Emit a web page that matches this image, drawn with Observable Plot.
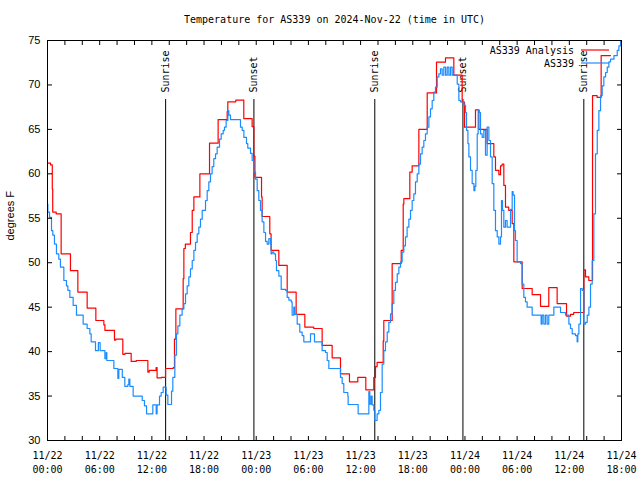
<!DOCTYPE html>
<html>
<head>
<meta charset="utf-8">
<script src="https://cdn.jsdelivr.net/npm/d3@7"></script>
<script src="https://cdn.jsdelivr.net/npm/@observablehq/plot@0.6"></script>
<style>
  html, body { margin: 0; padding: 0; background: white; }
</style>
</head>
<body>
<div id="chart"></div>
<script>
const titleText = "Temperature for AS339 on 2024-Nov-22 (time in UTC)";
const yLabelText = "degrees F";
const seriesNames = ["AS339 Analysis", "AS339"];
const seriesColors = ["#ff0000", "#1a8cff"];
const startTime = "2024-11-22T00:00Z";
const endTime = "2024-11-24T18:00Z";
const yDomain = [30, 75];
const yTicks = [30, 35, 40, 45, 50, 55, 60, 65, 70, 75];
const minorTickHours = 2;
const labelTickHours = 6;

const eventNames = ["Sunrise", "Sunset", "Sunrise", "Sunset", "Sunrise"];
const eventTimes = ["2024-11-22T13:35Z", "2024-11-22T23:44Z", "2024-11-23T13:38Z", "2024-11-23T23:46Z", "2024-11-24T13:40Z"];

// hours since 2024-11-22 00:00 UTC
const analysisHours = [0,0.35,0.55,0.6,1.0,1.57,2.64,3.49,4.56,5.56,6.48,6.6,7.7,7.85,8.66,8.9,9.62,10.2,11.54,11.7,12.49,12.6,13.1,13.57,14.45,14.6,14.76,15.6,15.68,15.85,16.44,16.64,16.83,17.52,18.63,19.62,20.66,20.73,21.65,22.57,23.53,23.72,23.85,24.61,24.68,25.56,25.71,26.6,27.56,28.59,29.59,30.62,31.58,32.73,33.69,34.72,35.68,36.6,37.52,37.71,37.9,38.6,38.67,39.63,40.67,40.9,40.97,41.66,41.93,42.7,43.66,44.73,45.76,46.72,47.68,47.95,49.21,49.6,50.55,51.32,51.51,51.9,52.09,52.27,52.47,52.66,53.03,53.43,53.62,54.58,55.73,56.69,57.64,58.6,59.68,60.14,60.5,61.67,61.86,62.24,62.67,63.2,63.66,64.73];
const analysisTemps = [61.2,61.0,58.3,55.7,55.5,51.0,49.1,46.7,44.9,43.5,43.0,42.4,41.3,41.4,39.7,39.8,38.9,39.0,37.7,37.9,38.2,37.05,37.1,38.1,38.2,41.4,44.8,48.2,51.6,52.1,53.4,55.9,57.4,60.0,63.45,66.1,67.0,68.1,68.3,66.2,65.3,62.0,59.6,57.4,55.2,53.25,51.4,49.7,46.7,44.2,42.75,42.6,40.7,39.3,37.5,36.6,37.1,35.7,37.1,38.3,38.8,41.2,43.5,49.9,51.4,56.6,57.2,60.2,60.9,65.0,69.1,72.56,73.05,71.1,68.06,65.25,67.2,65.0,63.4,61.9,60.4,59.9,60.9,61.1,58.7,56.25,55.9,54.4,50.1,47.1,46.4,45.1,47.2,45.4,44.0,44.2,44.4,49.2,48.4,48.0,68.8,68.6,73.3,73.3];

const obsHours = [0,0.04,0.23,0.46,0.61,0.80,1.03,1.30,1.49,1.88,2.18,2.34,2.57,2.95,3.33,4.10,4.56,4.87,5.02,5.52,5.85,6.05,6.6,6.75,6.82,7.63,8.09,8.2,8.6,8.89,9.24,9.35,9.47,9.85,10.89,11.15,11.39,12.11,12.5,12.6,12.88,13.07,13.30,13.64,13.84,14.26,14.41,14.64,14.83,14.99,15.22,15.48,15.68,15.87,16.06,16.25,16.44,16.64,16.83,17.02,17.21,17.40,17.59,17.79,18.17,18.36,18.55,18.74,18.93,19.12,19.32,19.51,19.78,19.97,20.20,20.35,20.54,20.74,20.85,21.04,22.19,22.39,22.58,22.88,23.03,23.34,23.53,23.72,23.92,24.11,24.30,24.49,24.68,24.88,25.07,25.26,25.45,25.64,25.71,25.83,26.02,26.22,26.33,26.60,26.87,27.37,27.56,27.75,28.02,28.13,28.32,28.44,28.71,29.01,29.28,29.47,30.05,30.24,30.55,30.70,31.39,31.58,31.97,32.16,32.35,33.62,33.69,33.88,34.07,34.53,34.57,35.68,35.72,36.76,36.95,37.06,37.21,37.33,37.52,37.64,37.90,38.10,38.29,38.48,38.67,38.86,39.06,39.25,39.44,39.63,39.82,40.01,40.21,40.40,40.59,40.78,40.97,41.16,41.35,41.55,41.74,41.93,42.12,42.31,42.51,42.70,42.89,43.08,43.27,43.46,43.66,43.85,44.04,44.23,44.42,44.61,44.81,45.00,45.19,45.38,45.57,45.77,45.96,46.15,46.34,46.53,47.11,47.30,47.49,47.88,48.07,48.18,48.34,48.45,48.64,48.83,49.03,49.14,49.25,49.41,49.52,49.67,49.79,49.98,50.17,50.36,50.55,50.75,50.94,51.13,51.32,51.51,51.71,51.90,52.09,52.20,52.32,52.47,52.66,52.85,53.05,53.24,53.43,53.54,53.70,53.81,54.00,54.39,54.58,54.77,54.96,55.15,55.73,56.69,56.76,56.88,57.07,57.26,57.45,57.64,58.03,58.22,58.99,59.56,59.95,60.14,60.33,60.71,60.90,60.98,61.10,61.29,61.48,61.67,61.86,62.06,62.25,62.44,62.63,62.82,63.01,63.21,63.40,63.59,63.78,63.97,64.17,64.36,64.55,64.74,65.13,65.51,65.70,65.89];
const obsTemps = [56.6,55.7,55.1,53.6,53.1,52.1,51.0,50.4,49.5,48.0,47.4,46.9,46.1,45.2,44.1,43.1,42.6,42.0,41.1,40.1,41.0,40.1,39.2,39.9,39.0,38.1,37.0,38.0,37.1,36.1,36.3,36.9,36.1,35.0,34.5,33.9,33.0,34.0,33.0,34.0,35.0,35.4,36.0,35.1,34.05,35.55,37.1,39.6,42.0,42.9,44.1,44.8,45.4,46.5,47.4,48.4,49.3,50.25,51.4,52.3,53.25,54.0,54.9,55.9,57.0,58.1,59.1,60.0,60.8,61.7,62.25,63.0,63.9,64.5,64.9,65.25,66.0,67.1,66.6,66.1,65.25,64.9,64.1,63.4,62.9,62.3,61.5,60.2,59.4,58.1,57.0,55.9,54.6,53.4,52.4,52.1,52.7,52.1,51.0,51.2,51.0,50.25,49.1,48.5,47.0,46.9,46.1,45.8,45.6,44.1,45.0,44.2,43.1,42.2,41.8,41.1,41.1,42.0,42.0,41.1,41.1,40.1,39.9,39.0,38.1,38.1,37.1,36.4,35.4,35.0,34.05,34.05,33.0,33.0,35.5,34.1,35.0,34.0,33.4,32.25,33.0,33.4,35.4,38.6,40.1,41.1,42.2,43.3,44.25,45.4,46.9,47.8,48.75,49.5,50.1,51.2,51.9,52.9,54.0,54.9,55.9,57.0,57.75,59.1,60.0,61.1,62.25,63.0,63.75,64.5,65.25,66.4,67.3,68.25,69.2,69.75,70.9,71.25,71.8,71.1,72.0,71.1,72.0,71.1,72.0,71.1,70.1,68.25,68.1,67.7,66.9,64.9,63.4,61.9,60.4,58.9,58.1,58.6,60.4,64.5,67.1,66.9,64.5,64.1,64.9,62.1,65.25,63.75,61.9,58.9,55.9,53.6,52.9,52.1,52.9,57.0,55.9,54.0,54.75,54.0,54.0,56.0,58.0,57.6,53.6,52.5,50.1,49.9,47.6,46.1,45.6,45.0,44.1,44.1,43.1,44.1,43.1,44.1,43.1,44.1,44.1,45.0,44.4,44.1,43.1,42.6,42.0,41.8,41.1,42.0,43.1,47.1,46.9,43.1,43.3,44.1,45.0,47.6,50.25,55.5,62.25,64.9,67.1,68.8,69.9,70.9,71.4,72.0,72.6,72.9,73.3,73.9,74.4,75.0];

const MONO = "'DejaVu Sans Mono', 'Liberation Mono', monospace";
const SANS = "'Liberation Sans', Arial, sans-serif";
const t0 = new Date(startTime), t1 = new Date(endTime);
const toDate = h => new Date(+t0 + h * 3600e3);
const analysis = analysisHours.map((h, i) => ({time: toDate(h), temp: analysisTemps[i]}));
const obs = obsHours.map((h, i) => ({time: toDate(h), temp: obsTemps[i]}));
const events = eventTimes.map((t, i) => ({time: new Date(t), name: eventNames[i]}));
const minorTicks = d3.utcHour.every(minorTickHours).range(t0, new Date(+t1 + 1));
const labelTicks = d3.utcHour.every(labelTickHours).range(t0, new Date(+t1 + 1));
const fmt = d3.utcFormat("%m/%d\n%H:%M");

function legendMark(index, scales, values, dims) {
  const g = d3.create("svg:g").attr("font-family", MONO).attr("font-size", 10);
  const xr = dims.width - dims.marginRight;
  seriesNames.forEach((name, i) => {
    const y = dims.marginTop + 10 + i * 13;
    g.append("text").attr("x", xr - 47).attr("y", y + 1).attr("dy", "0.32em")
      .attr("text-anchor", "end").attr("fill", "black").text(name);
    g.append("line").attr("x1", xr - 40).attr("x2", xr - 12).attr("y1", y).attr("y2", y)
      .attr("stroke", seriesColors[i]).attr("stroke-width", 1.2);
  });
  return g.node();
}

const chart = Plot.plot({
  width: 640,
  height: 480,
  marginLeft: 47,
  marginRight: 19,
  marginTop: 40,
  marginBottom: 40,
  style: {fontFamily: MONO, fontSize: "10px", background: "white", color: "black"},
  x: {type: "utc", domain: [t0, t1]},
  y: {domain: yDomain},
  marks: [
    Plot.ruleX(events, {x: "time", stroke: "black", strokeWidth: 1, insetTop: 59}),
    Plot.text(events, {x: "time", text: "name", frameAnchor: "top", dy: 52, rotate: -90,
      textAnchor: "start", lineAnchor: "middle", fill: "black", fontFamily: MONO, fontSize: 10}),
    Plot.line(analysis, {x: "time", y: "temp", stroke: seriesColors[0], strokeWidth: 1.2, curve: "step-after"}),
    Plot.line(obs, {x: "time", y: "temp", stroke: seriesColors[1], strokeWidth: 1.2, curve: "step-after"}),
    Plot.frame({stroke: "black", strokeWidth: 1}),
    Plot.axisX({anchor: "bottom", ticks: minorTicks, tickSize: -4, tickFormat: () => "", label: null}),
    Plot.axisX({anchor: "top", ticks: minorTicks, tickSize: -4, tickFormat: () => "", label: null}),
    Plot.axisX({anchor: "bottom", ticks: labelTicks, tickSize: 0, tickPadding: 9, tickFormat: fmt,
      lineHeight: 1.4, label: null, fontFamily: MONO, fontSize: 10}),
    Plot.axisY({anchor: "left", ticks: yTicks, tickSize: -5, tickPadding: 12, label: null,
      fontFamily: SANS, fontSize: 11}),
    Plot.axisY({anchor: "right", ticks: yTicks, tickSize: -5, tickFormat: () => "", label: null}),
    Plot.text([titleText], {frameAnchor: "top", dy: -21, lineAnchor: "middle", fill: "black",
      fontFamily: MONO, fontSize: 10}),
    Plot.text([yLabelText], {frameAnchor: "left", dx: -37, rotate: -90, lineAnchor: "middle",
      fill: "black", fontFamily: SANS, fontSize: 11}),
    legendMark
  ]
});
document.getElementById("chart").appendChild(chart);
</script>
</body>
</html>
